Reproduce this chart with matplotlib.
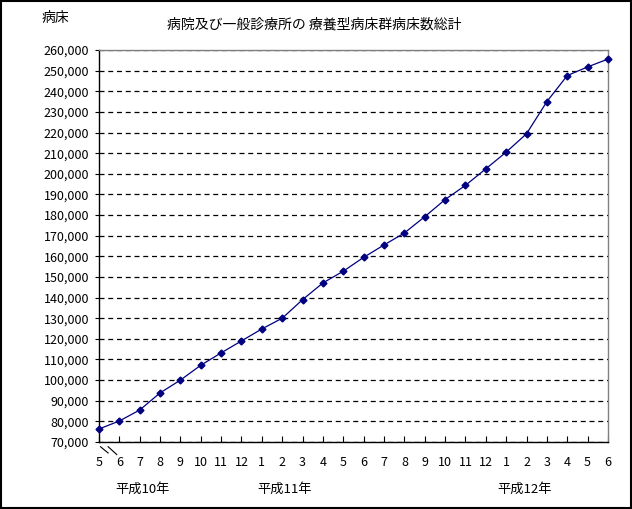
import matplotlib
matplotlib.use("Agg")
import matplotlib.pyplot as plt
import matplotlib.transforms as mtransforms
from matplotlib.patches import Rectangle
from matplotlib.ticker import FuncFormatter

plt.rcParams["font.family"] = ["Noto Sans CJK JP", "DejaVu Sans"]

# data (month-end totals, Heisei 10/5 .. Heisei 12/6)
months = [5, 6, 7, 8, 9, 10, 11, 12,
          1, 2, 3, 4, 5, 6, 7, 8, 9, 10, 11, 12,
          1, 2, 3, 4, 5, 6]
beds = [76300, 80200, 85500, 93800, 100000, 107200, 113200, 119000,
        124800, 130000, 139000, 147100, 152800, 159500, 165500, 171300,
        179200, 187500, 194400, 202400,
        210500, 219400, 235000, 247600, 251800, 255600]
year_labels = ["平成10年", "平成11年", "平成12年"]
title = "病院及び一般診療所の 療養型病床群病床数総計"
ylabel = "病床"

fig = plt.figure(figsize=(6.32, 5.09), dpi=100)
ax = fig.add_axes([0.1566, 0.1316, 0.8054, 0.7702])

x = list(range(len(beds)))
ax.plot(x, beds, color="#000080", lw=0.9, marker="D", ms=3.5,
        mfc="#000080", mec="#000080", clip_on=False, zorder=3)

ax.set_xlim(0, len(beds) - 1)
ax.set_ylim(70000, 260000)
ax.set_yticks(range(70000, 260001, 10000))
ax.yaxis.set_major_formatter(FuncFormatter(lambda v, p: f"{int(v):,}"))
ax.set_xticks(x)
ax.set_xticklabels([str(m) for m in months])
ax.tick_params(axis="x", direction="in", length=4, width=0.8, pad=10, labelsize=9)
ax.tick_params(axis="y", direction="out", length=3, width=0.8, pad=4, labelsize=9)

ax.grid(axis="y", color="black", ls=(0, (4, 3)), lw=0.9)
ax.set_axisbelow(True)

for side in ("left", "bottom"):
    ax.spines[side].set_color("black")
    ax.spines[side].set_linewidth(1.0)
for side in ("top", "right"):
    ax.spines[side].set_color("#808080")
    ax.spines[side].set_linewidth(1.0)

# axis break mark below origin
trans = ax.transAxes
ax.plot([0.003, 0.018], [-0.012, -0.028], color="black", lw=0.8,
        transform=trans, clip_on=False)
ax.plot([0.018, 0.035], [-0.012, -0.032], color="black", lw=0.8,
        transform=trans, clip_on=False)

# year labels under month ticks
year_pos = [2.15, 9.1, 20.9]
blend = mtransforms.blended_transform_factory(ax.transData, fig.transFigure)
for pos, lab in zip(year_pos, year_labels):
    fig.text(pos, 1 - 489 / 509, lab, transform=blend, ha="center",
             va="center", fontsize=9.5)

fig.text(314 / 632, 1 - 25 / 509, title, ha="center", va="center", fontsize=10)
fig.text(55 / 632, 1 - 18 / 509, ylabel, ha="center", va="center", fontsize=10)

fig.patches.append(Rectangle((0.001, 0.001), 0.997, 0.997, transform=fig.transFigure,
                             fill=False, edgecolor="black", lw=1.5))

fig.savefig("out.png", dpi=100, facecolor="white")
